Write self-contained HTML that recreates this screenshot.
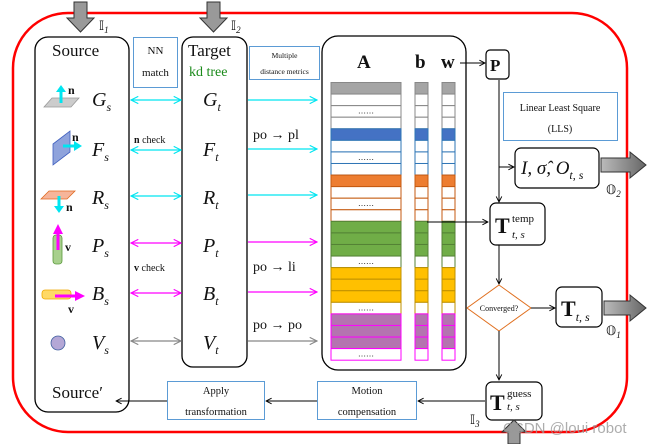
<!DOCTYPE html>
<html><head><meta charset="utf-8"><style>
html,body{margin:0;padding:0;background:#fff;width:654px;height:444px;overflow:hidden}
svg{display:block}
text{font-family:"Liberation Serif",serif;fill:#111}
.s{font-style:italic;font-size:20px}
</style></head><body>
<svg width="654" height="444" viewBox="0 0 654 444" xmlns="http://www.w3.org/2000/svg">
<defs>
<marker id="ab" viewBox="0 0 10 10" refX="9" refY="5" markerWidth="7" markerHeight="7" orient="auto-start-reverse"><path d="M1,1 L9,5 L1,9" fill="none" stroke="#000" stroke-width="1.3"/></marker>
<marker id="ac" viewBox="0 0 10 10" refX="9" refY="5" markerWidth="7" markerHeight="7" orient="auto-start-reverse"><path d="M1,1 L9,5 L1,9" fill="none" stroke="#00e5f0" stroke-width="1.3"/></marker>
<marker id="am" viewBox="0 0 10 10" refX="9" refY="5" markerWidth="7" markerHeight="7" orient="auto-start-reverse"><path d="M1,1 L9,5 L1,9" fill="none" stroke="#f0f" stroke-width="1.3"/></marker>
<marker id="ag" viewBox="0 0 10 10" refX="9" refY="5" markerWidth="7" markerHeight="7" orient="auto-start-reverse"><path d="M1,1 L9,5 L1,9" fill="none" stroke="#888" stroke-width="1.3"/></marker>
<linearGradient id="gg" x1="0" x2="1"><stop offset="0" stop-color="#bbb"/><stop offset="1" stop-color="#666"/></linearGradient>
</defs>
<rect x="13" y="13" width="614" height="419" rx="55" fill="none" stroke="#f00" stroke-width="2.5"/>
<path d="M74,2 H87 V18 H94 L80.5,32 L67,18 H74 Z" fill="#999" stroke="#333"/>
<path d="M207,2 H220 V18 H227 L213.5,32 L200,18 H207 Z" fill="#999" stroke="#333"/>
<text x="99" y="30" font-size="13">𝕀<tspan font-size="9" font-style="italic" dy="3">1</tspan></text>
<text x="231" y="30" font-size="13">𝕀<tspan font-size="9" font-style="italic" dy="3">2</tspan></text>
<rect x="35" y="37" width="94" height="375" rx="13" fill="none" stroke="#000" stroke-width="1.3"/>
<text x="52" y="56" font-size="17">Source</text>
<text x="52" y="398" font-size="17">Source′</text>
<rect x="182" y="37" width="65" height="330" rx="11" fill="none" stroke="#000" stroke-width="1.3"/>
<text x="188" y="56" font-size="17">Target</text>
<text x="189" y="76" font-size="14" style="fill:#1a8a1a">kd tree</text>
<rect x="133.5" y="37.5" width="44" height="50" fill="none" stroke="#5b9bd5"/>
<text x="155.5" y="54" font-size="11" text-anchor="middle">NN</text>
<text x="155.5" y="76" font-size="11" text-anchor="middle">match</text>
<rect x="249.5" y="46.5" width="70" height="33" fill="none" stroke="#5b9bd5"/>
<text x="284.5" y="58" font-size="7.5" text-anchor="middle">Multiple</text>
<text x="284.5" y="74" font-size="7.5" text-anchor="middle">distance metrics</text>
<path d="M44,107 L52,98 L79,98 L71,107 Z" fill="#ccc" stroke="#999" stroke-width="0.8"/>
<path d="M61,103 V90" stroke="#00e5f0" stroke-width="3"/><path d="M56,92 L61,85 L66,92 Z" fill="#00e5f0"/>
<text x="68" y="94" font-size="12" font-weight="bold">n</text>
<path d="M53,144 L70,131 L70,152 L53,165 Z" fill="#8fa3dc" stroke="#4060c0" stroke-width="0.8"/>
<path d="M63,146 H75" stroke="#00e5f0" stroke-width="3"/><path d="M74,141 L82,146 L74,151 Z" fill="#00e5f0"/>
<text x="72" y="141" font-size="12" font-weight="bold">n</text>
<path d="M41,199 L49,191 L75,191 L67,199 Z" fill="#f6b59a" stroke="#e06a20" stroke-width="0.8"/>
<path d="M59,196 V208" stroke="#00e5f0" stroke-width="3"/><path d="M54,206 L59,213 L64,206 Z" fill="#00e5f0"/>
<text x="66" y="211" font-size="12" font-weight="bold">n</text>
<rect x="53" y="235" width="9" height="29" rx="3" fill="#a8d08d" stroke="#5a9a3a" stroke-width="0.8"/>
<path d="M58,250 V231" stroke="#f0f" stroke-width="3"/><path d="M53,234 L58,224 L63,234 Z" fill="#f0f"/>
<text x="65" y="251" font-size="12" font-weight="bold">v</text>
<rect x="42" y="290" width="29" height="9" rx="3" fill="#ffd966" stroke="#f0a800" stroke-width="0.8"/>
<path d="M55,296 H77" stroke="#f0f" stroke-width="3"/><path d="M75,291 L85,296 L75,301 Z" fill="#f0f"/>
<text x="68" y="313" font-size="12" font-weight="bold">v</text>
<circle cx="58" cy="343" r="7" fill="#b4a7d6" stroke="#4060a0" stroke-width="0.8"/>
<text class="s" x="92" y="106">G<tspan font-size="12" dy="5">s</tspan></text>
<text class="s" x="92" y="156">F<tspan font-size="12" dy="5">s</tspan></text>
<text class="s" x="92" y="204">R<tspan font-size="12" dy="5">s</tspan></text>
<text class="s" x="92" y="252">P<tspan font-size="12" dy="5">s</tspan></text>
<text class="s" x="92" y="300">B<tspan font-size="12" dy="5">s</tspan></text>
<text class="s" x="92" y="349">V<tspan font-size="12" dy="5">s</tspan></text>
<text class="s" x="203" y="106">G<tspan font-size="12" dy="5">t</tspan></text>
<text class="s" x="203" y="156">F<tspan font-size="12" dy="5">t</tspan></text>
<text class="s" x="203" y="204">R<tspan font-size="12" dy="5">t</tspan></text>
<text class="s" x="203" y="252">P<tspan font-size="12" dy="5">t</tspan></text>
<text class="s" x="203" y="300">B<tspan font-size="12" dy="5">t</tspan></text>
<text class="s" x="203" y="349">V<tspan font-size="12" dy="5">t</tspan></text>
<g stroke-width="1.3" fill="none">
<line x1="131" y1="100" x2="181" y2="100" stroke="#00e5f0" marker-start="url(#ac)" marker-end="url(#ac)"/>
<line x1="131" y1="150" x2="181" y2="150" stroke="#00e5f0" marker-start="url(#ac)" marker-end="url(#ac)"/>
<line x1="131" y1="196" x2="181" y2="196" stroke="#00e5f0" marker-start="url(#ac)" marker-end="url(#ac)"/>
<line x1="131" y1="243" x2="181" y2="243" stroke="#f0f" marker-start="url(#am)" marker-end="url(#am)"/>
<line x1="131" y1="293" x2="181" y2="293" stroke="#f0f" marker-start="url(#am)" marker-end="url(#am)"/>
<line x1="131" y1="341" x2="181" y2="341" stroke="#888" marker-start="url(#ag)" marker-end="url(#ag)"/>
<line x1="248" y1="100" x2="317" y2="100" stroke="#00e5f0" marker-end="url(#ac)"/>
<line x1="248" y1="149" x2="317" y2="149" stroke="#00e5f0" marker-end="url(#ac)"/>
<line x1="248" y1="195" x2="317" y2="195" stroke="#00e5f0" marker-end="url(#ac)"/>
<line x1="248" y1="242" x2="317" y2="242" stroke="#f0f" marker-end="url(#am)"/>
<line x1="248" y1="292" x2="317" y2="292" stroke="#f0f" marker-end="url(#am)"/>
<line x1="248" y1="341" x2="317" y2="341" stroke="#888" marker-end="url(#ag)"/>
</g>
<text x="134" y="143" font-size="10"><tspan font-weight="bold">n</tspan> check</text>
<text x="134" y="271" font-size="10"><tspan font-weight="bold">v</tspan> check</text>
<text x="253" y="139" font-size="14">po → pl</text>
<text x="253" y="271" font-size="14">po → li</text>
<text x="253" y="329" font-size="14">po → po</text>
<rect x="322" y="36" width="144" height="334" rx="16" fill="none" stroke="#000" stroke-width="1.3"/>
<text x="357" y="68" font-size="19" font-weight="bold">A</text>
<text x="415" y="68" font-size="19" font-weight="bold">b</text>
<text x="441" y="68" font-size="19" font-weight="bold">w</text>
<g id="rows" stroke-width="1"></g>
<rect x="486" y="50" width="23" height="29" rx="4" fill="#fff" stroke="#000" stroke-width="1.2"/>
<text x="490" y="71" font-size="17" font-weight="bold">P</text>
<line x1="460" y1="63" x2="485" y2="63" stroke="#000" stroke-width="1" marker-end="url(#ab)"/>
<rect x="503.5" y="92.5" width="114" height="48" fill="none" stroke="#5b9bd5"/>
<text x="560" y="111" font-size="10" text-anchor="middle">Linear Least Square</text>
<text x="560" y="132" font-size="10" text-anchor="middle">(LLS)</text>
<line x1="499" y1="80" x2="499" y2="202" stroke="#000" stroke-width="1" marker-end="url(#ab)"/>
<line x1="499" y1="167" x2="514" y2="167" stroke="#000" stroke-width="1" marker-end="url(#ab)"/>
<rect x="515" y="148" width="84" height="40" rx="6" fill="#fff" stroke="#000" stroke-width="1.2"/>
<text x="521" y="174" font-size="19" font-style="italic">I, σ̂, O<tspan font-size="12" dy="5">t, s</tspan></text>
<path d="M601,158 H630 V152 L646,165 L630,178 V172 H601 Z" fill="url(#gg)" stroke="#333"/>
<text x="606" y="194" font-size="13">𝕆<tspan font-size="9" font-style="italic" dy="3">2</tspan></text>
<rect x="490" y="203" width="55" height="42" rx="6" fill="#fff" stroke="#000" stroke-width="1.2"/>
<text x="495" y="233" font-size="22" font-weight="bold">T</text>
<text x="512" y="222" font-size="11">temp</text>
<text x="512" y="238" font-size="11" font-style="italic">t, s</text>
<line x1="427" y1="222" x2="488" y2="222" stroke="#000" stroke-width="1" marker-end="url(#ab)"/>
<line x1="499" y1="245" x2="499" y2="284" stroke="#000" stroke-width="1" marker-end="url(#ab)"/>
<path d="M499,285 L531,308 L499,331 L467,308 Z" fill="#fff" stroke="#e07020"/>
<text x="499" y="311" font-size="8" text-anchor="middle">Converged?</text>
<line x1="531" y1="308" x2="555" y2="308" stroke="#000" stroke-width="1" marker-end="url(#ab)"/>
<rect x="556" y="287" width="46" height="40" rx="6" fill="#fff" stroke="#000" stroke-width="1.2"/>
<text x="561" y="316" font-size="22" font-weight="bold">T<tspan font-size="12" font-weight="normal" font-style="italic" dy="5">t, s</tspan></text>
<path d="M604,301 H630 V295 L646,308 L630,321 V315 H604 Z" fill="url(#gg)" stroke="#333"/>
<text x="606" y="335" font-size="13">𝕆<tspan font-size="9" font-style="italic" dy="3">1</tspan></text>
<line x1="499" y1="331" x2="499" y2="380" stroke="#000" stroke-width="1" marker-end="url(#ab)"/>
<rect x="486" y="382" width="56" height="38" rx="6" fill="#fff" stroke="#000" stroke-width="1.2"/>
<text x="490" y="410" font-size="22" font-weight="bold">T</text>
<text x="507" y="397" font-size="11">guess</text>
<text x="507" y="410" font-size="11" font-style="italic">t, s</text>
<text x="470" y="424" font-size="13">𝕀<tspan font-size="9" font-style="italic" dy="3">3</tspan></text>
<path d="M508,444 V432 H502 L514,420 L526,432 H520 V444 Z" fill="#999" stroke="#333"/>
<rect x="317.5" y="381.5" width="99" height="38" fill="#fff" stroke="#5b9bd5"/>
<text x="367" y="394" font-size="10.5" text-anchor="middle">Motion</text>
<text x="367" y="415" font-size="10.5" text-anchor="middle">compensation</text>
<line x1="485" y1="401" x2="418" y2="401" stroke="#000" stroke-width="1" marker-end="url(#ab)"/>
<rect x="167.5" y="381.5" width="97" height="38" fill="#fff" stroke="#5b9bd5"/>
<text x="216" y="394" font-size="10.5" text-anchor="middle">Apply</text>
<text x="216" y="415" font-size="10.5" text-anchor="middle">transformation</text>
<line x1="317" y1="401" x2="266" y2="401" stroke="#000" stroke-width="1" marker-end="url(#ab)"/>
<line x1="167" y1="401" x2="116" y2="401" stroke="#000" stroke-width="1" marker-end="url(#ab)"/>
<text x="503" y="433" font-size="15" style="fill:#999;font-family:'Liberation Sans',sans-serif" fill-opacity="0.8">CSDN @loui robot</text>
</svg>
<script>
(function(){
var g=document.getElementById('rows');var ns='http://www.w3.org/2000/svg';
var spec=[['#a5a5a5','#888'],[0,'#888'],[1,'#888'],[0,'#888'],['#4472c4','#2e75b6'],[0,'#2e75b6'],[1,'#2e75b6'],[0,'#2e75b6'],['#ed7d31','#c55a11'],[0,'#c55a11'],[1,'#c55a11'],[0,'#c55a11'],['#70ad47','#548235'],['#70ad47','#548235'],['#70ad47','#548235'],[1,'#548235'],['#ffc000','#bf9000'],['#ffc000','#bf9000'],['#ffc000','#bf9000'],[1,'#bf9000'],['#b474b0','#f0f'],['#b474b0','#f0f'],['#b474b0','#f0f'],[1,'#f0f']];
var y0=82.5,h=11.57;
spec.forEach(function(s,i){var y=y0+i*h;var fill=(typeof s[0]=='string')?s[0]:'#fff';
[[331,70],[415,13],[442,13]].forEach(function(c){var r=document.createElementNS(ns,'rect');r.setAttribute('x',c[0]);r.setAttribute('y',y);r.setAttribute('width',c[1]);r.setAttribute('height',h);r.setAttribute('fill',fill);r.setAttribute('stroke',s[1]);g.appendChild(r);});
if(s[0]===1){var t=document.createElementNS(ns,'text');t.setAttribute('x',366);t.setAttribute('y',y+8);t.setAttribute('font-size','8');t.setAttribute('text-anchor','middle');t.textContent='……';g.appendChild(t);}
});})();
</script>
</body></html>
